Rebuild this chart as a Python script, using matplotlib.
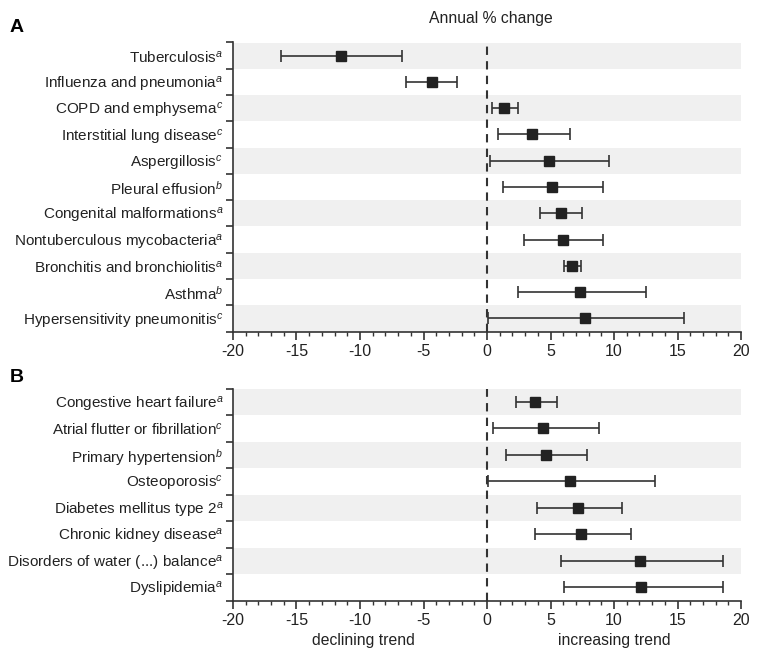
import numpy as np
import matplotlib.pyplot as plt

plt.rcParams['font.family'] = ['Liberation Sans', 'DejaVu Sans']
plt.rcParams['mathtext.fontset'] = 'custom'
plt.rcParams['mathtext.it'] = 'Liberation Sans:italic'
plt.rcParams['mathtext.rm'] = 'Liberation Sans'
plt.rcParams['axes.unicode_minus'] = False

# panel A: respiratory
labels_a = ["Tuberculosis$^{a}$", "Influenza and pneumonia$^{a}$", "COPD and emphysema$^{c}$",
            "Interstitial lung disease$^{c}$", "Aspergillosis$^{c}$", "Pleural effusion$^{b}$",
            "Congenital malformations$^{a}$", "Nontuberculous mycobacteria$^{a}$",
            "Bronchitis and bronchiolitis$^{a}$", "Asthma$^{b}$", "Hypersensitivity pneumonitis$^{c}$"]
est_a = [-11.5, -4.35, 1.35, 3.55, 4.9, 5.1, 5.85, 6.0, 6.7, 7.3, 7.7]
lo_a = [-16.2, -6.35, 0.4, 0.9, 0.25, 1.25, 4.2, 2.95, 6.1, 2.45, 0.08]
hi_a = [-6.7, -2.4, 2.45, 6.5, 9.6, 9.1, 7.5, 9.1, 7.4, 12.5, 15.5]

# panel B: comorbidities
labels_b = ["Congestive heart failure$^{a}$", "Atrial flutter or fibrillation$^{c}$",
            "Primary hypertension$^{b}$", "Osteoporosis$^{c}$", "Diabetes mellitus type 2$^{a}$",
            "Chronic kidney disease$^{a}$", "Disorders of water (...) balance$^{a}$", "Dyslipidemia$^{a}$"]
est_b = [3.8, 4.4, 4.65, 6.55, 7.2, 7.4, 12.05, 12.15]
lo_b = [2.25, 0.45, 1.5, 0.1, 3.9, 3.8, 5.8, 6.05]
hi_b = [5.5, 8.85, 7.9, 13.2, 10.6, 11.3, 18.55, 18.55]

W, H = 764, 654
fig = plt.figure(figsize=(W/100, H/100), dpi=100)
left, right = 233/W, 741/W
axA = fig.add_axes([left, 1-331.5/H, right-left, (331.5-42.5)/H])
axB = fig.add_axes([left, 1-600.5/H, right-left, (600.5-388.5)/H])


def forest(ax, labels, est, lo, hi):
    n = len(labels)
    y = np.arange(n)
    for i in range(0, n, 2):
        ax.axhspan(i-0.5, i+0.5, color='#f0f0f0', lw=0, zorder=0)
    ax.axvline(0, color='#333333', ls=(0, (4, 3)), lw=1.5, zorder=1)
    est = np.array(est); lo = np.array(lo); hi = np.array(hi)
    ax.errorbar(est, y, xerr=[est-lo, hi-est], fmt='s', color='#222222', ms=7.5,
                ecolor='#333333', elinewidth=1.2, capsize=4, capthick=1.2, zorder=3)
    ax.set_xlim(-20, 20)
    ax.set_ylim(n-0.5, -0.5)
    ax.set_yticks(np.arange(-0.5, n, 1.0))
    ax.set_yticklabels([])
    ax.set_yticks(y, minor=True)
    ax.set_yticklabels(labels, minor=True, fontsize=11, color='#222222')
    ax.tick_params(axis='y', which='minor', length=0, pad=7)
    ax.tick_params(axis='y', which='major', length=5, width=1.2, color='#333333')
    ax.set_xticks(np.arange(-20, 21, 5))
    ax.set_xticks(np.arange(-20, 21, 1), minor=True)
    ax.tick_params(axis='x', which='major', length=6, width=1.2, labelsize=11.5, color='#333333',
                   labelcolor='#222222', pad=3)
    ax.tick_params(axis='x', which='minor', length=3, width=1.0, color='#333333')
    for s in ['top', 'right']:
        ax.spines[s].set_visible(False)
    for s in ['left', 'bottom']:
        ax.spines[s].set_linewidth(1.2)
        ax.spines[s].set_color('#333333')


forest(axA, labels_a, est_a, lo_a, hi_a)
forest(axB, labels_b, est_b, lo_b, hi_b)

fig.text(491/W, 1-18/H, "Annual % change", ha='center', va='center', fontsize=11.3, color='#222222')
fig.text(10/W, 1-27/H, "A", ha='left', va='center', fontsize=14, fontweight='bold')
fig.text(10/W, 1-378/H, "B", ha='left', va='center', fontsize=14, fontweight='bold')
fig.text(363/W, 1-640/H, "declining trend", ha='center', va='center', fontsize=11.3, color='#222222')
fig.text(614/W, 1-640/H, "increasing trend", ha='center', va='center', fontsize=11.3, color='#222222')

fig.savefig("out.png", dpi=100)
